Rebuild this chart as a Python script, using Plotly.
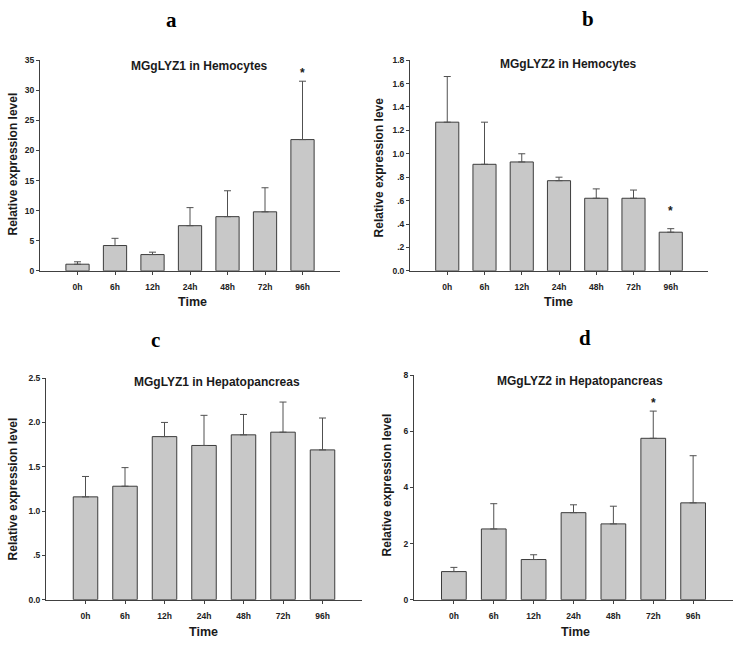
import plotly.graph_objects as go

categories = ["0h", "6h", "12h", "24h", "48h", "72h", "96h"]

# Panel a: MGgLYZ1 in Hemocytes
a_mean = [1.1, 4.2, 2.7, 7.5, 9.0, 9.8, 21.8]
a_upper = [1.5, 5.4, 3.1, 10.5, 13.3, 13.8, 31.5]
# Panel b: MGgLYZ2 in Hemocytes
b_mean = [1.27, 0.91, 0.93, 0.77, 0.62, 0.62, 0.33]
b_upper = [1.66, 1.27, 1.00, 0.80, 0.70, 0.69, 0.36]
# Panel c: MGgLYZ1 in Hepatopancreas
c_mean = [1.16, 1.28, 1.84, 1.74, 1.86, 1.89, 1.69]
c_upper = [1.39, 1.49, 2.00, 2.08, 2.09, 2.23, 2.05]
# Panel d: MGgLYZ2 in Hepatopancreas
d_mean = [1.0, 2.52, 1.43, 3.10, 2.70, 5.75, 3.45]
d_upper = [1.15, 3.42, 1.60, 3.38, 3.33, 6.72, 5.13]

# significance markers (category, y position)
a_star = ("96h", 32.8)
b_star = ("96h", 0.51)
d_star = ("72h", 7.0)

a_ticks = [0, 5, 10, 15, 20, 25, 30, 35]
a_ticktext = ["0", "5", "10", "15", "20", "25", "30", "35"]
b_ticks = [0, 0.2, 0.4, 0.6, 0.8, 1.0, 1.2, 1.4, 1.6, 1.8]
b_ticktext = ["0.0", ".2", ".4", ".6", ".8", "1.0", "1.2", "1.4", "1.6", "1.8"]
c_ticks = [0, 0.5, 1.0, 1.5, 2.0, 2.5]
c_ticktext = ["0.0", ".5", "1.0", "1.5", "2.0", "2.5"]
d_ticks = [0, 2, 4, 6, 8]
d_ticktext = ["0", "2", "4", "6", "8"]

W, H = 738, 646
FILL = "#c8c8c8"
EDGE = "#3c3c3c"
AXC = "#404040"
TXT = "#1a1a1a"

panels = [
    dict(mean=a_mean, upper=a_upper, ticks=a_ticks, tt=a_ticktext, yr=[0, 35],
         px=(40, 340), py=(56, 270), title="MGgLYZ1 in Hemocytes", tpos=(200, 62),
         letter="a", lpos=(171, 15), ylabel="Relative expression level", ylpos=(13, 162),
         xlpos=(192, 302), star=a_star),
    dict(mean=b_mean, upper=b_upper, ticks=b_ticks, tt=b_ticktext, yr=[0, 1.8],
         px=(410, 708), py=(56, 270), title="MGgLYZ2 in Hemocytes", tpos=(568, 60),
         letter="b", lpos=(588, 14), ylabel="Relative expression leve", ylpos=(379, 165),
         xlpos=(558, 302), star=b_star),
    dict(mean=c_mean, upper=c_upper, ticks=c_ticks, tt=c_ticktext, yr=[0, 2.5],
         px=(46, 362), py=(379, 604), title="MGgLYZ1 in Hepatopancreas", tpos=(217, 383),
         letter="c", lpos=(155, 340), ylabel="Relative expression level", ylpos=(13, 492),
         xlpos=(203, 637), star=None),
    dict(mean=d_mean, upper=d_upper, ticks=d_ticks, tt=d_ticktext, yr=[0, 8],
         px=(414, 733), py=(376, 604), title="MGgLYZ2 in Hepatopancreas", tpos=(580, 382),
         letter="d", lpos=(585, 338), ylabel="Relative expression level", ylpos=(387, 488),
         xlpos=(575, 637), star=d_star),
]

fig = go.Figure()
layout = dict(width=W, height=H, margin=dict(l=0, r=0, t=0, b=0),
              paper_bgcolor="white", plot_bgcolor="white", showlegend=False,
              hovermode=False,
              font=dict(family="Arial, Liberation Sans, sans-serif", color=TXT))
annotations = []
tickfont = dict(size=8.5, color="#222", family="Arial, Liberation Sans, sans-serif", weight="bold")

for i, p in enumerate(panels, start=1):
    xa = "x" if i == 1 else f"x{i}"
    ya = "y" if i == 1 else f"y{i}"
    err = [u - m for u, m in zip(p["upper"], p["mean"])]
    fig.add_trace(go.Bar(
        x=categories, y=p["mean"], xaxis=xa, yaxis=ya, width=0.62,
        marker=dict(color=FILL, line=dict(color=EDGE, width=1)),
        error_y=dict(type="data", array=err, arrayminus=[0] * len(err), symmetric=False,
                     color="#505050", thickness=1, width=3.5),
    ))
    xd = [p["px"][0] / W, p["px"][1] / W]
    yd = [1 - p["py"][1] / H, 1 - p["py"][0] / H]
    layout["xaxis" if i == 1 else f"xaxis{i}"] = dict(
        domain=xd, anchor=ya, type="category", range=[-1, 7],
        showline=True, linecolor=AXC, linewidth=1, ticks="outside", ticklen=3,
        tickcolor=AXC, tickfont=tickfont, ticklabelstandoff=5,
        showgrid=False, zeroline=False, fixedrange=True)
    layout["yaxis" if i == 1 else f"yaxis{i}"] = dict(
        domain=yd, anchor=xa, range=p["yr"], tickvals=p["ticks"], ticktext=p["tt"],
        showline=True, linecolor=AXC, linewidth=1, ticks="outside", ticklen=3,
        tickcolor=AXC, tickfont=tickfont,
        showgrid=False, zeroline=False, fixedrange=True)
    annotations.append(dict(text=f"<b>{p['title']}</b>", x=p["tpos"][0] / W, y=1 - p["tpos"][1] / H,
                            xref="paper", yref="paper", showarrow=False, xanchor="center",
                            yanchor="middle", font=dict(size=12, color=TXT)))
    annotations.append(dict(text=f"<b>{p['letter']}</b>", x=p["lpos"][0] / W, y=1 - p["lpos"][1] / H,
                            xref="paper", yref="paper", showarrow=False, xanchor="center",
                            yanchor="middle",
                            font=dict(size=21, color="#000", family="Liberation Serif, Times New Roman, serif")))
    annotations.append(dict(text=f"<b>{p['ylabel']}</b>", x=p["ylpos"][0] / W, y=1 - p["ylpos"][1] / H,
                            xref="paper", yref="paper", showarrow=False, xanchor="center",
                            yanchor="middle", textangle=-90, font=dict(size=12, color=TXT)))
    annotations.append(dict(text="<b>Time</b>", x=p["xlpos"][0] / W, y=1 - p["xlpos"][1] / H,
                            xref="paper", yref="paper", showarrow=False, xanchor="center",
                            yanchor="middle", font=dict(size=12.5, color=TXT)))
    if p["star"] is not None:
        annotations.append(dict(text="<b>*</b>", x=p["star"][0], y=p["star"][1], xref=xa, yref=ya,
                                showarrow=False, xanchor="center", yanchor="middle",
                                font=dict(size=12, color=TXT)))

layout["annotations"] = annotations
fig.update_layout(**layout)
fig.write_html("out.html", config={"displayModeBar": False, "staticPlot": True},
               post_script="document.body.style.margin='0';document.body.style.overflow='hidden';")
